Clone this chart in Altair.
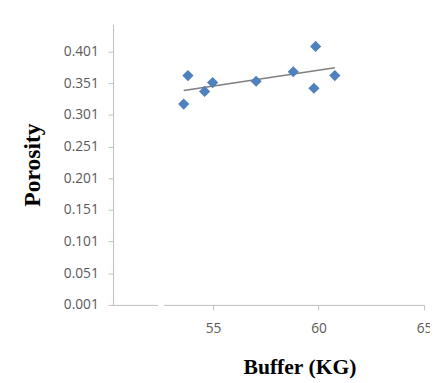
import altair as alt
import pandas as pd

buffer_kg = [53.61, 53.81, 54.60, 54.98, 57.04, 58.80, 59.86, 59.78, 60.77]
porosity = [0.318, 0.363, 0.338, 0.352, 0.354, 0.369, 0.409, 0.343, 0.363]
y_ticks = [0.001, 0.051, 0.101, 0.151, 0.201, 0.251, 0.301, 0.351, 0.401]
x_ticks = [55, 60, 65]
break_x = [52.40, 52.68]

df = pd.DataFrame({"Buffer": buffer_kg, "Porosity": porosity})
brk = pd.DataFrame({"Buffer": [break_x[0]], "x2": [break_x[1]], "Porosity": [0.001]})

xscale = alt.Scale(domain=[50.26, 65], nice=False, zero=False)
yscale = alt.Scale(domain=[0.001, 0.444], nice=False, zero=False)

x_axis = alt.Axis(
    values=x_ticks, tickCount=20, grid=False, domainColor="#BFBFBF",
    tickColor="#BFBFBF", tickSize=5, labelPadding=12, labelFont="Open Sans",
    labelFontSize=14, labelColor="#595959", labelOverlap=False,
    labelFlush=False, title="Buffer (KG)", titleFont="Liberation Serif",
    titleFontSize=22, titleFontWeight="bold", titleColor="#000000",
    titleX=190, titleY=70, titleBaseline="alphabetic", titleAlign="center",
)
y_axis = alt.Axis(
    values=y_ticks, tickCount=20, format=".3f", grid=False,
    domainColor="#BFBFBF", tickColor="#BFBFBF", tickSize=5, labelPadding=10,
    labelFont="Open Sans", labelFontSize=14, labelColor="#595959",
    labelOverlap=False, labelFlush=False, title="Porosity",
    titleFont="Liberation Serif", titleFontSize=24, titleFontWeight="bold",
    titleColor="#000000", titleAngle=270, titleX=-75, titleY=143,
    titleBaseline="alphabetic", titleAlign="center",
)

points = alt.Chart(df).mark_point(
    shape="diamond", filled=True, size=130, color="#4F81BD", opacity=1
).encode(
    x=alt.X("Buffer:Q", scale=xscale, axis=x_axis),
    y=alt.Y("Porosity:Q", scale=yscale, axis=y_axis),
)

trend = alt.Chart(df).transform_regression(
    "Buffer", "Porosity", method="linear"
).mark_line(color="#7F7F7F", strokeWidth=1.5).encode(
    x=alt.X("Buffer:Q", scale=xscale, axis=x_axis),
    y=alt.Y("Porosity:Q", scale=yscale, axis=y_axis),
)

gap = alt.Chart(brk).mark_rule(color="white", strokeWidth=4).encode(
    x=alt.X("Buffer:Q", scale=xscale, axis=x_axis),
    x2="x2:Q",
    y=alt.Y("Porosity:Q", scale=yscale, axis=y_axis),
)

chart = alt.layer(gap, trend, points).properties(
    width=317, height=286,
    autosize=alt.AutoSizeParams(type="none"),
    padding={"left": 107, "top": 13, "right": 6, "bottom": 76},
    background="white",
).configure_view(stroke=None)

chart.save("out.html", embed_options={"renderer": "svg", "actions": False})
